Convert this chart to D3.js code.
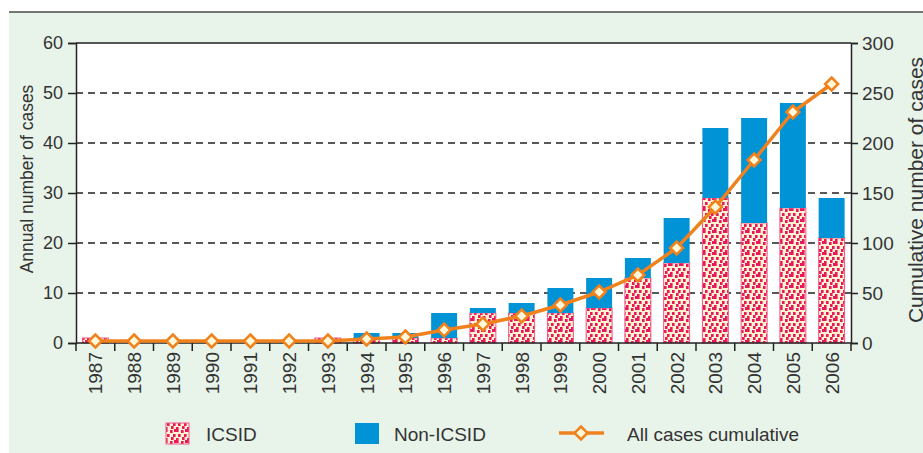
<!DOCTYPE html>
<html>
<head>
<meta charset="utf-8">
<script src="https://cdn.jsdelivr.net/npm/d3@7"></script>
<style>
  body { margin: 0; background: #fff; }
  svg { display: block; }
</style>
</head>
<body>
<svg width="923" height="453"></svg>
<script>
const years = ["1987","1988","1989","1990","1991","1992","1993","1994","1995","1996",
               "1997","1998","1999","2000","2001","2002","2003","2004","2005","2006"];
const icsid    = [1,0,0,0,0,0,1,1,1,1,6,6,6,7,13,16,29,24,27,21];
const nonIcsid = [0,0,0,0,0,0,0,1,1,5,1,2,5,6,4,9,14,21,21,8];
const cumulative = [2,2,2,2,2,2,2,4,6,13,19,27,38,51,68,95,136,183,231,259];
const leftTicks = [0,10,20,30,40,50,60];
const rightTicks = [0,50,100,150,200,250,300];

const margin = {top: 43, right: 72, bottom: 110, left: 76};
const width = 923 - margin.left - margin.right;
const height = 453 - margin.top - margin.bottom;

const font = "'Liberation Sans', Arial, sans-serif";
const blue = "#0093d6", pink = "#e6195e", orange = "#f0821e";

const svg = d3.select("svg").attr("font-family", font);

// background panel
svg.append("rect").attr("x", 9).attr("y", 12).attr("width", 914).attr("height", 441).attr("fill", "#e8f3e9");
svg.append("line").attr("x1", 9).attr("x2", 923).attr("y1", 12).attr("y2", 12)
    .attr("stroke", "#4a4a4a").attr("stroke-width", 1.5);

// dotted pattern for ICSID
const defs = svg.append("defs");
const pat = defs.append("pattern").attr("id", "dots").attr("patternUnits", "userSpaceOnUse")
    .attr("width", 11).attr("height", 11);
pat.append("rect").attr("width", 11).attr("height", 11).attr("fill", "#fff4cf");
[[0,0],[5,1],[8,5],[2,5],[6,8],[0,9],[9,0]].forEach(([px, py]) => {
    pat.append("rect").attr("x", px).attr("y", py).attr("width", 2.6).attr("height", 3).attr("fill", pink);
});

const g = svg.append("g").attr("transform", `translate(${margin.left},${margin.top})`);

g.append("rect").attr("width", width).attr("height", height).attr("fill", "#fff");

const x = d3.scaleBand().domain(years).range([0, width]).paddingInner(0.33).paddingOuter(0.165);
const y = d3.scaleLinear().domain([0, 60]).range([height, 0]);
const y2 = d3.scaleLinear().domain([0, 300]).range([height, 0]);

// gridlines
g.append("g").selectAll("line").data(leftTicks.filter(d => d > 0 && d < 60)).join("line")
    .attr("x1", 0).attr("x2", width).attr("y1", d => y(d)).attr("y2", d => y(d))
    .attr("stroke", "#222").attr("stroke-width", 1.3).attr("stroke-dasharray", "7,5");

// stacked bars
const rows = years.map((yr, i) => ({year: yr, icsid: icsid[i], non: nonIcsid[i]}));
const series = d3.stack().keys(["icsid", "non"])(rows);

g.append("g").selectAll("g").data(series).join("g")
    .each(function(s) {
        d3.select(this).selectAll("rect").data(s.filter(d => d[1] - d[0] > 0)).join("rect")
            .attr("x", d => x(d.data.year))
            .attr("width", x.bandwidth())
            .attr("y", d => y(d[1]))
            .attr("height", d => y(d[0]) - y(d[1]))
            .attr("fill", s.key === "icsid" ? "url(#dots)" : blue)
            .attr("stroke", s.key === "icsid" ? "#ee5a8a" : "none")
            .attr("stroke-width", 1);
    });

// top border
g.append("line").attr("x1", 0).attr("x2", width).attr("y1", 0).attr("y2", 0)
    .attr("stroke", "#555").attr("stroke-width", 2);

// axes
const leftAxis = g.append("g")
    .call(d3.axisLeft(y).tickValues(leftTicks).tickSize(8).tickPadding(5));
const rightAxis = g.append("g").attr("transform", `translate(${width},0)`)
    .call(d3.axisRight(y2).tickValues(rightTicks).tickSize(7).tickPadding(4));
[leftAxis, rightAxis].forEach(a => {
    a.select(".domain").attr("stroke", "#222").attr("stroke-width", 1.5);
    a.selectAll(".tick line").attr("stroke", "#222").attr("stroke-width", 1.5);
    a.selectAll("text").attr("fill", "#333").attr("font-size", 18).attr("font-family", font);
});
rightAxis.selectAll("text").attr("font-size", 19);

// bottom axis with ticks on band edges
const step = x.step();
const edge0 = x(years[0]) - step * x.paddingInner() / 2;
const bottom = g.append("g").attr("transform", `translate(0,${height})`);
bottom.append("line").attr("x1", 0).attr("x2", width).attr("stroke", "#222").attr("stroke-width", 1.5);
bottom.selectAll(".edge").data(d3.range(years.length + 1)).join("line").attr("class", "edge")
    .attr("x1", k => edge0 + k * step).attr("x2", k => edge0 + k * step)
    .attr("y1", 0).attr("y2", 8).attr("stroke", "#222").attr("stroke-width", 1.5);
bottom.selectAll("text").data(years).join("text")
    .attr("transform", d => `translate(${x(d) + x.bandwidth() / 2 + 7},9) rotate(-90)`)
    .attr("text-anchor", "end").attr("font-size", 19).attr("fill", "#333")
    .text(d => d);

// cumulative line
const pts = years.map((yr, i) => [x(yr) + x.bandwidth() / 2, y2(cumulative[i])]);
g.append("path").datum(pts)
    .attr("d", d3.line())
    .attr("fill", "none").attr("stroke", orange).attr("stroke-width", 3.5);
const diamond = "M0,-6.5L6.5,0L0,6.5L-6.5,0Z";
g.append("g").selectAll("path").data(pts).join("path")
    .attr("transform", d => `translate(${d[0]},${d[1]})`)
    .attr("d", diamond)
    .attr("fill", "#fff8d9").attr("stroke", orange).attr("stroke-width", 2.5);

// axis titles
svg.append("text")
    .attr("transform", `translate(33,${margin.top + height / 2 - 14}) rotate(-90)`)
    .attr("text-anchor", "middle").attr("font-size", 17.5).attr("fill", "#333")
    .text("Annual number of cases");
svg.append("text")
    .attr("transform", `translate(923,${margin.top + height / 2 - 3}) rotate(-90)`)
    .attr("text-anchor", "middle").attr("font-size", 21).attr("fill", "#333")
    .text("Cumulative number of cases");

// legend
const leg = svg.append("g").attr("font-size", 19).attr("fill", "#333");
leg.append("rect").attr("x", 166).attr("y", 423).attr("width", 23).attr("height", 21)
    .attr("fill", "url(#dots)").attr("stroke", "#ee5a8a");
leg.append("text").attr("x", 206).attr("y", 441).text("ICSID");
leg.append("rect").attr("x", 355).attr("y", 423).attr("width", 24).attr("height", 21).attr("fill", blue);
leg.append("text").attr("x", 394).attr("y", 441).text("Non-ICSID");
leg.append("line").attr("x1", 559).attr("x2", 604).attr("y1", 433).attr("y2", 433)
    .attr("stroke", orange).attr("stroke-width", 3.5);
leg.append("path").attr("transform", "translate(581,433)").attr("d", diamond)
    .attr("fill", "#fff8d9").attr("stroke", orange).attr("stroke-width", 2.5);
leg.append("text").attr("x", 627).attr("y", 441).text("All cases cumulative");
</script>
</body>
</html>
